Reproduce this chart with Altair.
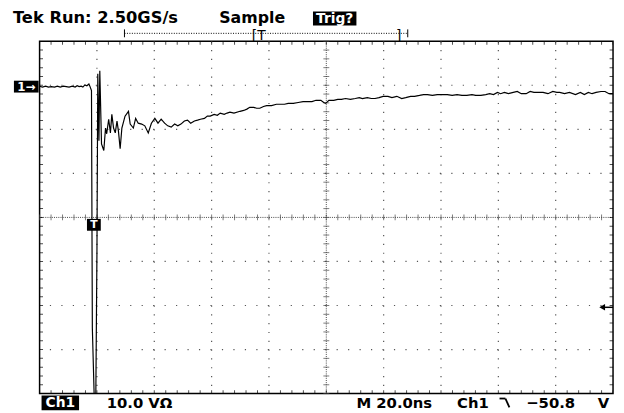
import altair as alt
import pandas as pd

# ---------------- trace data (time in ns, voltage in V) ----------------
t_base = [0.0, 1.0, 2.1, 3.1, 4.1, 5.2, 6.2, 7.2, 8.3, 9.3, 10.3, 11.4, 12.4, 13.1,
          13.8, 14.5, 15.1, 15.8, 16.5, 17.2, 17.6, 18.1]
v_base = [0.1, -0.1, 0.1, -0.1, 0.0, -0.1, 0.1, -0.1, 0.1, 0.0, -0.1, 0.1, -0.1, 0.2,
          0.0, 0.1, -0.1, 0.4, 0.2, 0.6, 0.0, -0.9]

t_ring = [18.4, 19.1, 19.6, 20.0, 20.3, 20.7, 21.0, 21.6, 22.4, 23.0,
          23.4, 24.1, 24.7, 25.2, 25.8, 26.4, 27.0, 27.5, 28.1, 28.7,
          29.8, 31.0, 31.6, 32.7, 33.5, 34.4, 35.6, 36.7, 37.9, 39.0,
          40.2, 41.3, 42.4, 43.6, 44.7, 45.9, 47.1, 48.2, 49.3, 50.5,
          51.6]
v_ring = [-54.8, -71.6, -71.6, -38.0, 2.9, -12.3, 3.6, -13.0, -14.5, -9.4,
          -10.7, -7.4, -10.5, -6.3, -9.4, -10.5, -7.8, -10.1, -14.1, -9.4,
          -6.7, -5.6, -8.5, -9.4, -7.2, -8.3, -8.5, -8.9, -10.5, -8.3,
          -7.2, -8.3, -7.4, -8.3, -8.9, -9.2, -8.5, -8.9, -8.5, -7.8,
          -7.6]

t_tail = [52.7, 54.0, 55.1, 56.1, 57.5, 58.5, 59.5, 60.9, 62.0, 63.0,
          64.4, 65.4, 66.4, 67.8, 69.9, 71.2, 72.3, 73.3, 74.7, 75.7,
          76.8, 78.1, 79.2, 80.9, 82.6, 83.6, 85.4, 86.7, 88.5, 90.2,
          91.9, 93.6, 95.0, 96.4, 98.1, 99.1, 99.8, 100.9, 102.6, 104.0,
          105.3, 106.7, 108.4, 110.1, 111.5, 112.6, 114.3, 115.7, 117.0, 118.4,
          119.8, 121.5, 122.9, 124.6, 126.3, 127.7, 129.4, 130.8, 132.5, 133.9,
          135.3, 137.0, 138.7, 140.4, 142.2, 143.9, 145.6, 147.3, 149.0, 150.8,
          152.1, 153.9, 155.6, 157.0, 158.3, 159.7, 160.8, 162.1, 163.5, 165.2,
          166.6, 168.0, 169.7, 171.1, 172.4, 174.2, 175.6, 177.3, 179.0, 180.4,
          181.4, 183.1, 184.8, 186.9, 188.6, 190.0, 191.4, 192.7, 194.1, 195.8,
          197.2, 198.6, 200.0]
v_tail = [-8.3, -7.8, -7.6, -7.4, -7.2, -6.7, -6.7, -6.3, -6.5, -6.0,
          -6.3, -6.0, -5.8, -6.0, -5.6, -5.4, -5.1, -4.7, -4.7, -4.9,
          -4.9, -4.5, -4.3, -4.3, -4.0, -4.0, -4.0, -3.8, -3.8, -3.6,
          -3.4, -3.4, -3.4, -3.1, -3.1, -3.6, -3.8, -3.1, -3.1, -2.9,
          -2.9, -2.7, -2.9, -2.7, -2.5, -2.7, -2.5, -2.7, -2.7, -2.5,
          -2.2, -2.2, -2.5, -2.2, -2.7, -2.5, -2.2, -2.2, -2.0, -1.8,
          -1.8, -2.0, -1.8, -1.8, -1.8, -2.0, -1.8, -2.0, -2.0, -1.8,
          -2.0, -2.0, -1.8, -1.6, -1.8, -1.3, -1.6, -1.3, -1.6, -1.3,
          -1.1, -1.6, -1.6, -1.1, -1.3, -1.3, -1.3, -1.6, -1.1, -1.3,
          -1.3, -1.6, -1.3, -1.8, -1.3, -1.8, -1.3, -1.6, -1.3, -1.1,
          -1.1, -1.6, -1.6]

# ---------------- scope settings ----------------
T_PER_DIV = 20.0        # M 20.0ns
V_PER_DIV = 10.0        # 10.0 V
V_CENTER = -29.69       # screen centre (ground marker near top)
TRIG_LEVEL_MARK = -50.1  # trigger-level arrow position
N_HDIV, N_VDIV, SUB = 10, 8, 5

W, H = 581, 357
x_dom = [0.0, N_HDIV * T_PER_DIV]
y_dom = [V_CENTER - N_VDIV / 2 * V_PER_DIV, V_CENTER + N_VDIV / 2 * V_PER_DIV]

xsc = alt.Scale(domain=x_dom, nice=False, zero=False)
ysc = alt.Scale(domain=y_dom, nice=False, zero=False)

trace = pd.DataFrame({"t": t_base + t_ring + t_tail, "v": v_base + v_ring + v_tail})

grid_t = [i * T_PER_DIV for i in range(1, N_HDIV) if i != N_HDIV // 2]
grid_v = [y_dom[0] + i * V_PER_DIV for i in range(1, N_VDIV) if i != N_VDIV // 2]
minor_t = [i * T_PER_DIV / SUB for i in range(N_HDIV * SUB + 1)]
minor_v = [y_dom[0] + i * V_PER_DIV / SUB for i in range(N_VDIV * SUB + 1)]
t_mid = x_dom[1] / 2

one = pd.DataFrame({"k": [0]})
FONT = "DejaVu Sans"
GRID = "#555555"

X = lambda f: alt.X(f, type="quantitative", scale=xsc, axis=None)
Y = lambda f: alt.Y(f, type="quantitative", scale=ysc, axis=None)

# graticule
vgrid = alt.Chart(pd.DataFrame({"t": grid_t})).mark_rule(
    color=GRID, strokeWidth=1.2, strokeDash=[1.2, H / (N_VDIV * SUB) - 1.2]).encode(x=X("t"))
hgrid = alt.Chart(pd.DataFrame({"v": grid_v})).mark_rule(
    color=GRID, strokeWidth=1.2, strokeDash=[1.2, W / (N_HDIV * SUB) - 1.2]).encode(y=Y("v"))
vcenter = alt.Chart(pd.DataFrame({"t": [t_mid]})).mark_rule(
    color="#444444", strokeWidth=1, strokeDash=[1, 1.2]).encode(x=X("t"))
hcenter = alt.Chart(pd.DataFrame({"v": [V_CENTER]})).mark_rule(
    color="#444444", strokeWidth=1, strokeDash=[1, 1.2]).encode(y=Y("v"))

ticks_h = alt.Chart(pd.DataFrame({"t": minor_t})).mark_tick(
    orient="vertical", size=6, thickness=1, color="#444444").encode(
    x=X("t"), y=alt.datum(V_CENTER, type="quantitative", scale=ysc, axis=None))
ticks_v = alt.Chart(pd.DataFrame({"v": minor_v})).mark_tick(
    orient="horizontal", size=6, thickness=1, color="#444444").encode(
    y=Y("v"), x=alt.datum(t_mid, type="quantitative", scale=xsc, axis=None))

edge_top = alt.Chart(pd.DataFrame({"t": minor_t})).mark_tick(
    orient="vertical", size=7, thickness=1, color="black", clip=True).encode(
    x=X("t"), y=alt.datum(y_dom[1], type="quantitative", scale=ysc, axis=None))
edge_bot = alt.Chart(pd.DataFrame({"t": minor_t})).mark_tick(
    orient="vertical", size=7, thickness=1, color="black", clip=True).encode(
    x=X("t"), y=alt.datum(y_dom[0], type="quantitative", scale=ysc, axis=None))
edge_left = alt.Chart(pd.DataFrame({"v": minor_v})).mark_tick(
    orient="horizontal", size=7, thickness=1, color="black", clip=True).encode(
    y=Y("v"), x=alt.datum(x_dom[0], type="quantitative", scale=xsc, axis=None))
edge_right = alt.Chart(pd.DataFrame({"v": minor_v})).mark_tick(
    orient="horizontal", size=7, thickness=1, color="black", clip=True).encode(
    y=Y("v"), x=alt.datum(x_dom[1], type="quantitative", scale=xsc, axis=None))

line = alt.Chart(trace).mark_line(color="black", strokeWidth=1.2, clip=True).encode(
    x=X("t"), y=Y("v"))

# trigger level arrow on the right edge
trig_arrow = alt.Chart(pd.DataFrame({"v": [TRIG_LEVEL_MARK]})).mark_point(
    shape="triangle-left", filled=True, color="black", size=45, opacity=1).encode(
    x=alt.value(W - 11), y=Y("v"))
trig_stub = alt.Chart(pd.DataFrame({"v": [TRIG_LEVEL_MARK]})).mark_rule(
    color="black", strokeWidth=1.5).encode(x=alt.value(W - 10), x2=alt.value(W), y=Y("v"))


def box(x1, x2, y1, y2):
    return alt.Chart(one).mark_rect(color="black").encode(
        x=alt.value(x1), x2=alt.value(x2), y=alt.value(y1), y2=alt.value(y2))


def label(txt, x, y, size=16, color="black", weight="bold", align="left", baseline="alphabetic"):
    return alt.Chart(one).mark_text(text=txt, align=align, baseline=baseline, fontSize=size,
                                    font=FONT, color=color, fontWeight=weight).encode(
        x=alt.value(x), y=alt.value(y))


def seg(x1, y1, x2, y2, w=1.2, dash=None):
    kw = dict(color="black", strokeWidth=w)
    if dash:
        kw["strokeDash"] = dash
    return alt.Chart(one).mark_rule(**kw).encode(
        x=alt.value(x1), y=alt.value(y1), x2=alt.value(x2), y2=alt.value(y2))


chrome = [
    # top status line
    label("Tek Run: 2.50GS/s", -27, -18, size=16.5),
    label("Sample", 182, -18, size=16),
    box(277, 321, -30, -16),
    label("Trig?", 299, -18.5, size=14, color="white", align="center"),
    # record bracket
    seg(86, -8, 373, -8, w=1, dash=[1, 1.5]),
    seg(86, -12, 86, -4, w=1),
    seg(373, -12, 373, -4, w=1),
    label("[T", 215, -1, size=14, weight="normal"),
    label("]", 361, -1, size=14, weight="normal"),
    # ground marker
    box(-26, -1, 40, 52),
    label("1\u2192", -13.5, 46.5, size=12, color="white", align="center", baseline="middle"),
    # trigger-position marker
    box(48, 62, 180, 192),
    label("T", 55, 186.5, size=11, color="white", align="center", baseline="middle"),
    # bottom status line
    box(2, 40, 359, 374),
    label("Ch1", 21, 371, size=14, color="white", align="center"),
    label("10.0 V\u03a9", 68, 372, size=15),
    label("M 20.0ns", 321, 372, size=15),
    label("Ch1", 423, 372, size=15),
    seg(466, 362, 472, 362, w=1.8),
    seg(472, 362, 476, 371, w=1.8),
    label("\u221250.8", 493, 372, size=15),
    label("V", 577, 372, size=15, align="right"),
]

chart = alt.layer(
    vgrid, hgrid, vcenter, hcenter, ticks_h, ticks_v,
    edge_top, edge_bot, edge_left, edge_right,
    line, trig_arrow, trig_stub, *chrome
).properties(
    width=W, height=H,
    autosize=alt.AutoSizeParams(type="none"),
    padding={"left": 32, "top": 31, "right": 3, "bottom": 17},
    background="white",
).configure_view(stroke="black", strokeWidth=1.5)

chart.save("out.html", embed_options={"renderer": "svg", "actions": False})
